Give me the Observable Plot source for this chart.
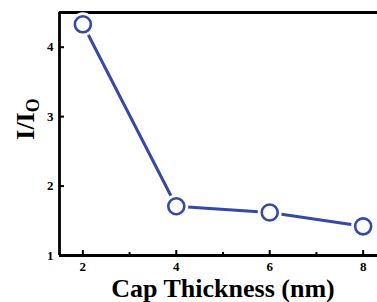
<!DOCTYPE html>
<html>
<head>
<meta charset="utf-8">
<script src="https://cdn.jsdelivr.net/npm/d3@7"></script>
<script src="https://cdn.jsdelivr.net/npm/@observablehq/plot@0.6"></script>
<style>
  html, body { margin: 0; padding: 0; background: #fff; }
  #chart { width: 377px; height: 302px; overflow: hidden; }
</style>
</head>
<body>
<div id="chart"></div>
<script>
const thickness = [2, 4, 6, 8];
const ratio = [4.33, 1.71, 1.62, 1.42];
const xTicks = [2, 4, 6, 8];
const xMinorTicks = [3, 5, 7];
const yTicks = [1, 2, 3, 4];
const xDomain = [1.5, 8.5];
const yDomain = [1, 4.5];
const xLabel = "Cap Thickness (nm)";
const yLabelMain = "I/I";
const yLabelSub = "O";

const data = thickness.map((t, i) => ({t, r: ratio[i]}));
const blue = "#3549a6";
const serif = "'Liberation Serif', 'Times New Roman', serif";
const fmt = d3.format("d");

const W = 377, H = 302, ML = 59, MT = 12, MB = 47, MR = -9;
const frameW = W - ML - MR, frameH = H - MT - MB;
const majorLen = 5, minorLen = 3;

const chart = Plot.plot({
  width: W,
  height: H,
  marginLeft: ML,
  marginTop: MT,
  marginBottom: MB,
  marginRight: MR,
  x: {domain: xDomain},
  y: {domain: yDomain},
  style: {fontFamily: serif, fontWeight: "bold", fontSize: "13px", color: "black", background: "white", overflow: "hidden"},
  marks: [
    // inward tick marks
    Plot.tickX(xTicks, {x: d => d, insetTop: frameH - majorLen, stroke: "black", strokeWidth: 2}),
    Plot.tickX(xMinorTicks, {x: d => d, insetTop: frameH - minorLen, stroke: "black", strokeWidth: 2}),
    Plot.tickY(yTicks, {y: d => d, insetRight: frameW - majorLen, stroke: "black", strokeWidth: 2}),
    // tick labels
    Plot.axisX({ticks: xTicks, tickSize: 0, tickPadding: 6, tickFormat: fmt, label: null, fontWeight: "bold"}),
    Plot.axisY({ticks: yTicks, tickSize: 0, tickPadding: 6, tickFormat: fmt, label: null, fontWeight: "bold"}),
    // frame
    Plot.ruleX([xDomain[0]], {strokeWidth: 2.8, stroke: "black"}),
    Plot.ruleY([yDomain[0], yDomain[1]], {strokeWidth: 2.8, stroke: "black"}),
    // data
    Plot.line(data, {x: "t", y: "r", stroke: blue, strokeWidth: 3}),
    Plot.dot(data, {x: "t", y: "r", r: 12, fill: "white", stroke: null}),
    Plot.dot(data, {x: "t", y: "r", r: 8, fill: "white", stroke: blue, strokeWidth: 2.6}),
    Plot.text([xLabel], {frameAnchor: "bottom", lineAnchor: "bottom", dy: 41, fontSize: 26, fontWeight: "bold", fill: "black", fontFamily: serif})
  ]
});

const svg = d3.select(chart);
const yl = svg.append("text")
  .attr("transform", "translate(34,119) rotate(-90)")
  .attr("text-anchor", "middle")
  .attr("font-family", serif)
  .attr("font-weight", "bold")
  .attr("font-size", 26)
  .attr("fill", "black");
yl.append("tspan").text(yLabelMain);
yl.append("tspan").attr("font-size", 18).attr("dy", 5).text(yLabelSub);

document.getElementById("chart").appendChild(chart);
</script>
</body>
</html>
